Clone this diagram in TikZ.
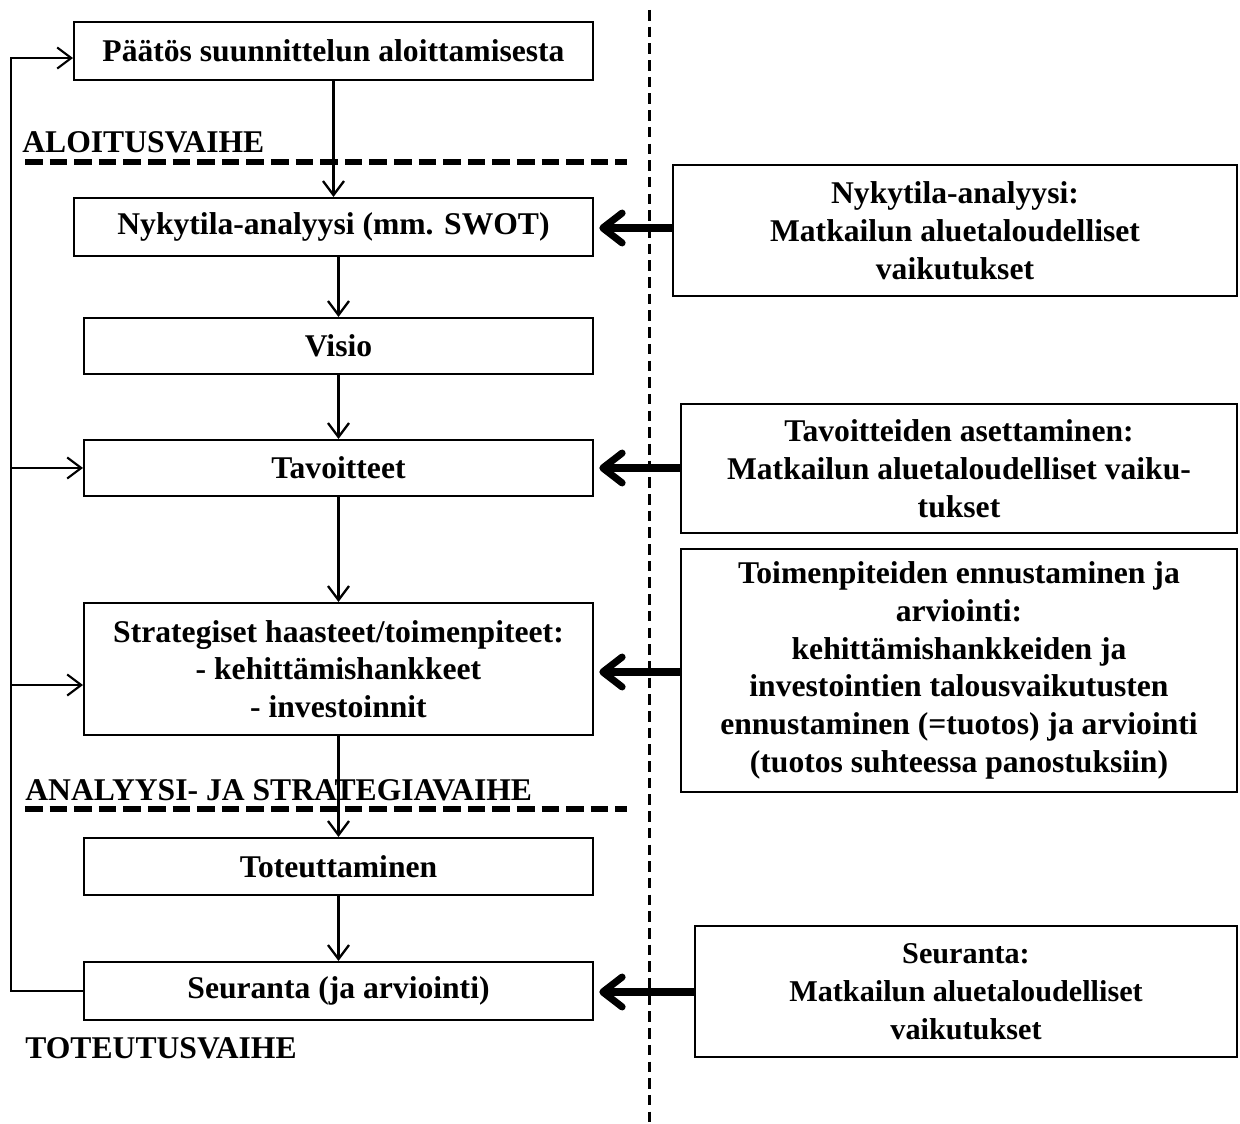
\documentclass[tikz,border=0pt]{standalone}
\usepackage{fontspec}
\setmainfont{Liberation Serif}
\usetikzlibrary{positioning,arrows.meta}

\tikzset{
  stepbox/.style={draw,line width=1.2pt,align=center,inner sep=2pt,
    font=\fontsize{18}{21.5}\selectfont\bfseries},
  infobox/.style={stepbox},
  flow/.style={line width=1.3pt,-{Straight Barb[length=8pt,width=12pt]}},
  feed/.style={line width=1.2pt,-{Straight Barb[length=8pt,width=12pt]}},
  input/.style={line width=4pt,-{Straight Barb[round,length=11pt,width=17pt]},shorten >=3pt},
  phaseline/.style={line width=3.4pt,dash pattern=on 10pt off 4pt},
  phaselabel/.style={font=\fontsize{18}{21.5}\selectfont\bfseries,inner sep=0pt}
}

\begin{document}
\begin{tikzpicture}[x=0.02cm,y=-0.02cm]
\useasboundingbox (0,0) rectangle (1240,1124);
% Divider
\draw[line width=1.7pt,dash pattern=on 6pt off 3.5pt] (649,10) -- (649,1124);
% Phases
\draw[phaseline] (25,162) -- (627,162);
\draw[phaseline] (25,809) -- (627,809);
\node[phaselabel,anchor=base west] (aloitus) at (22,153) {ALOITUSVAIHE};
\node[phaselabel,anchor=base west] (analyysi) at (25,800) {ANALYYSI- JA STRATEGIAVAIHE};
\node[phaselabel,anchor=base west] (toteutus) at (25,1058) {TOTEUTUSVAIHE};
% Planning steps
\node[stepbox,minimum width=10.38cm,minimum height=1.16cm] (paatos) at (333.5,51) {Päätös suunnittelun aloittamisesta};
\node[stepbox,minimum width=10.38cm,minimum height=1.16cm] (nykytila) at (333.5,227) {Nykytila-analyysi (mm. SWOT)};
\node[stepbox,minimum width=10.18cm,minimum height=1.12cm] (visio) at (338.5,346) {Visio};
\node[stepbox,minimum width=10.18cm,minimum height=1.12cm] (tavoitteet) at (338.5,468) {Tavoitteet};
\node[stepbox,minimum width=10.18cm,minimum height=2.64cm] (strategia) at (338.5,669) {Strategiset haasteet/toimenpiteet:\\- kehittämishankkeet\\- investoinnit};
\node[stepbox,minimum width=10.18cm,minimum height=1.14cm] (toteutus2) at (338.5,866.5) {Toteuttaminen};
\node[stepbox,minimum width=10.18cm,minimum height=1.16cm] (seuranta) at (338.5,991) {Seuranta (ja arviointi)};
% Impact boxes
\node[infobox,minimum width=11.28cm,minimum height=2.62cm] (r-nykytila) at (955,230.5) {Nykytila-analyysi:\\Matkailun aluetaloudelliset\\vaikutukset};
\node[infobox,minimum width=11.12cm,minimum height=2.58cm] (r-tavoite) at (959,468.5) {Tavoitteiden asettaminen:\\Matkailun aluetaloudelliset vaiku-\\tukset};
\node[infobox,minimum width=11.12cm,minimum height=4.86cm] (r-toimenpide) at (959,670.5) {Toimenpiteiden ennustaminen ja\\arviointi:\\kehittämishankkeiden ja\\investointien talousvaikutusten\\ennustaminen (=tuotos) ja arviointi\\(tuotos suhteessa panostuksiin)};
\node[infobox,minimum width=10.84cm,minimum height=2.62cm,font=\fontsize{17.2}{21.5}\selectfont\bfseries] (r-seuranta) at (966,991.5) {Seuranta:\\Matkailun aluetaloudelliset\\vaikutukset};
% Flow
\draw[flow] (paatos.south) -- (nykytila.north);
\draw[flow] (nykytila.south -| visio) -- (visio.north);
\draw[flow] (visio) -- (tavoitteet);
\draw[flow] (tavoitteet) -- (strategia);
\draw[flow] (strategia) -- (toteutus2);
\draw[flow] (toteutus2) -- (seuranta);
% Feedback loop
\coordinate (back) at (11,991);
\draw[feed] (seuranta.west) -- (back) |- ([yshift=-4]paatos.west);
\draw[feed] (back |- tavoitteet) -- (tavoitteet.west);
\draw[feed] (back |- 0,685) -- (strategia.west |- 0,685);
% Inputs
\draw[input] (r-nykytila.west |- 0,228) -- (nykytila.east |- 0,228);
\draw[input] (r-tavoite.west |- tavoitteet) -- (tavoitteet.east);
\draw[input] (r-toimenpide.west |- 0,672) -- (strategia.east |- 0,672);
\draw[input] (r-seuranta.west |- 0,992) -- (seuranta.east |- 0,992);
\end{tikzpicture}
\end{document}
